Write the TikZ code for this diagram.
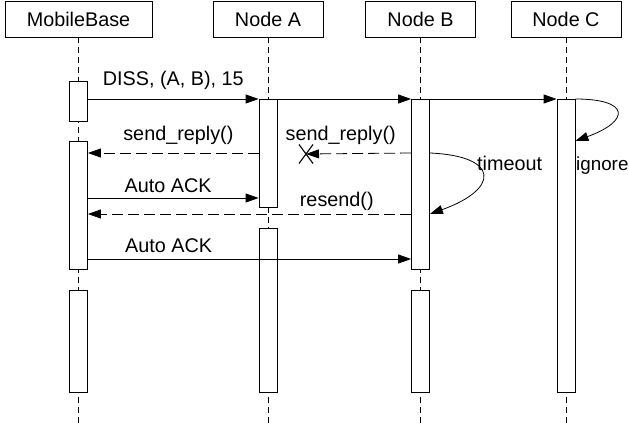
\documentclass[tikz,border=0pt]{standalone}
\usepackage{fontspec}
\setmainfont{Liberation Sans}
\usepackage{tikz}
\usetikzlibrary{arrows.meta, positioning, calc, shapes.misc}

\begin{document}
\begin{tikzpicture}[
  x=1pt, y=-1pt,
  every node/.style={font=\fontsize{19.8}{22}\selectfont},
  actor/.style={rectangle, draw=black, fill=white, line width=0.8pt,
                minimum width=110pt, minimum height=36pt, inner sep=0pt},
  act/.style={rectangle, draw=black, fill=white, line width=0.8pt,
              minimum width=18pt, inner sep=0pt, anchor=north},
  lbl/.style={inner sep=0pt, text depth=0pt},
  lost/.style={cross out, draw=black, line width=1.1pt,
               minimum width=13pt, minimum height=18pt, inner sep=0pt},
  life/.style={line width=0.8pt, dash pattern=on 6pt off 4pt},
  msg/.style={-{Triangle[length=13pt, width=9pt]}, line width=0.8pt},
  reply/.style={-{Triangle[length=13pt, width=9pt]}, line width=0.8pt,
                dash pattern=on 11pt off 5pt},
]
\useasboundingbox (0,0) rectangle (629,431);

% Participants
\node[actor, minimum width=147pt] (mb) at (78.5,19) {MobileBase};
\node[actor] (na) at (268,19)   {Node A};
\node[actor] (nb) at (420.5,19) {Node B};
\node[actor] (nc) at (566,19)   {Node C};

% Lifelines
\coordinate (bottom) at (0,425);
\draw[life] (mb.south) -- (mb.south |- bottom);
\draw[life] (na.south) -- (na.south |- bottom);
\draw[life] (nb.south) -- (nb.south |- bottom);
\draw[life] (nc.south) -- (nc.south |- bottom);

% Activations
\node[act, minimum height=40pt]  (mb1) at (mb.south |- 0,81)  {};
\node[act, minimum height=128pt] (mb2) at (mb.south |- 0,141) {};
\node[act, minimum height=102pt] (mb3) at (mb.south |- 0,290) {};
\node[act, minimum height=108pt] (na1) at (na.south |- 0,99)  {};
\node[act, minimum height=164pt] (na2) at (na.south |- 0,228) {};
\node[act, minimum height=170pt] (nb1) at (nb.south |- 0,99)  {};
\node[act, minimum height=102pt] (nb2) at (nb.south |- 0,290) {};
\node[act, minimum height=293pt] (nc1) at (nc.south |- 0,99)  {};

% Message rows
\coordinate (r2) at (0,153);
\coordinate (r3) at (0,198);
\coordinate (r4) at (0,214);
\coordinate (r5) at (0,259);
\node[lost] (drop) at (306,154) {};

% Messages
\draw[msg] (mb1.east |- na1.north) -- node[lbl, above=13pt]{DISS, (A, B), 15} (na1.north west);
\draw[msg] (na1.north east) -- (nb1.north west);
\draw[msg] (nb1.north east) -- (nc1.north west);
\draw[msg] (nc1.north east) .. controls +(55,0) and +(55,-20) .. ($(nc1.north east)+(0,42)$);
\draw[reply] (na1.west |- r2) -- node[lbl, above=12pt, pos=0.47]{send\_reply()} (mb2.east |- r2);
\draw[reply] (nb1.west |- r2) -- node[lbl, above=13pt, pos=0.67]{send\_reply()} (drop.center);
\draw[msg] (nb1.east |- r2) .. controls +(70,3) and +(70,-25) .. (nb1.east |- r4);
\draw[msg] (mb2.east |- r3) -- node[lbl, above=5pt, pos=0.47]{Auto ACK} (na1.west |- r3);
\draw[reply] (nb1.west |- r4) -- node[lbl, above=7pt, pos=0.23]{resend()} (mb2.east |- r4);
\draw[msg] (mb2.east |- r5) -- node[lbl, above=6pt, pos=0.25]{Auto ACK} (nb1.west |- r5);

% Notes
\node[lbl, anchor=base west] (tmo) at (477,170) {timeout};
\node[lbl, anchor=base west, font=\fontsize{18.8}{22}\selectfont] (ign) at (576,170) {ignore};

\end{tikzpicture}
\end{document}
